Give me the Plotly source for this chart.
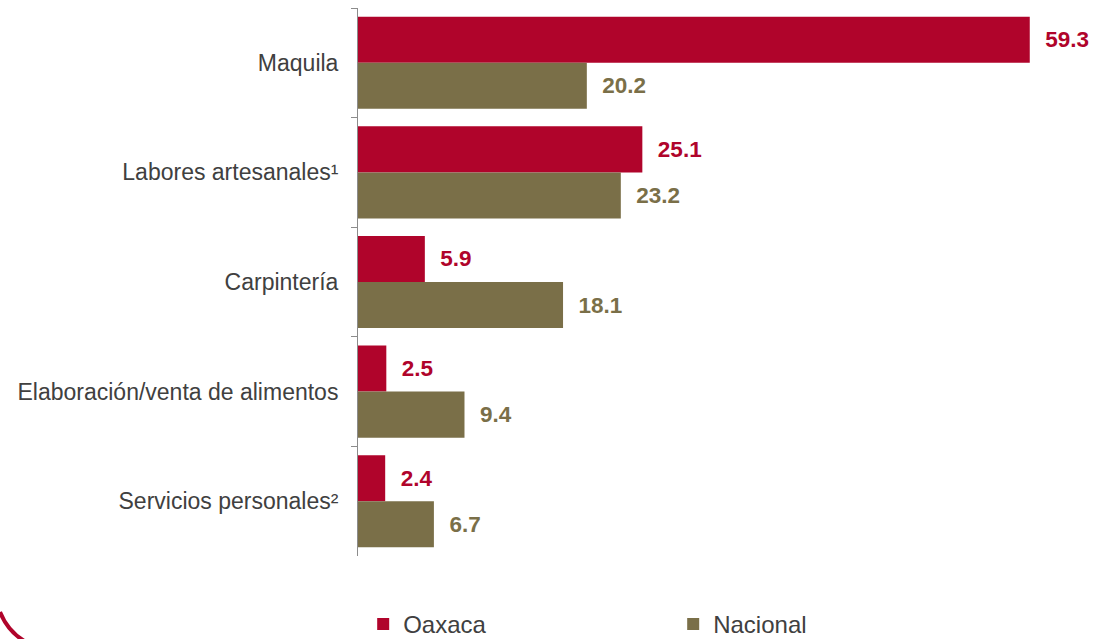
import plotly.graph_objects as go

categories = ["Maquila", "Labores artesanales¹", "Carpintería",
              "Elaboración/venta de alimentos", "Servicios personales²"]
oaxaca = [59.3, 25.1, 5.9, 2.5, 2.4]
nacional = [20.2, 23.2, 18.1, 9.4, 6.7]

RED = "#B0042B"
OLIVE = "#7A6F48"
PAD = "\u00a0\u00a0"

fig = go.Figure()
fig.add_trace(go.Bar(
    y=categories, x=oaxaca, name="Oaxaca", orientation="h",
    marker=dict(color=RED, line=dict(width=0)),
    text=[PAD + f"{v:.1f}" for v in oaxaca], textposition="outside",
    textfont=dict(family="Liberation Sans, Arial", size=22.5, color=RED, weight="bold"),
    cliponaxis=False,
))
fig.add_trace(go.Bar(
    y=categories, x=nacional, name="Nacional", orientation="h",
    marker=dict(color=OLIVE, line=dict(width=0)),
    text=[PAD + f"{v:.1f}" for v in nacional], textposition="outside",
    textfont=dict(family="Liberation Sans, Arial", size=22.5, color=OLIVE, weight="bold"),
    cliponaxis=False,
))

fig.update_layout(
    width=1113, height=639,
    margin=dict(l=358, r=13, t=8, b=83, autoexpand=False),
    paper_bgcolor="white", plot_bgcolor="white",
    barmode="group", bargap=0.16, bargroupgap=0,
    font=dict(family="Liberation Sans, Arial", color="#404040"),
    xaxis=dict(range=[0, 65.5], visible=False, showgrid=False, zeroline=False),
    yaxis=dict(autorange="reversed", showline=True, linecolor="#8C8C8C", linewidth=1,
               ticks="outside", tickson="boundaries", ticklen=6, tickcolor="#8C8C8C",
               tickfont=dict(size=23, color="#404040"), ticklabelstandoff=14,
               showgrid=False, automargin=False),
    legend=dict(orientation="h", x=0.007, xanchor="left", y=-0.125, yanchor="middle",
                font=dict(size=24, color="#404040"),
                entrywidth=265, entrywidthmode="pixels", itemwidth=30),
    showlegend=True,
)

# decorative arc in bottom-left corner
x0 = (0 - 358) / 742
y0 = (556 - 612) / 548
x1 = (26 - 358) / 742
y1 = (556 - 642) / 548
cx = (8 - 358) / 742
cy = (556 - 632) / 548
fig.add_shape(type="path", xref="paper", yref="paper",
              path=f"M {x0},{y0} Q {cx},{cy} {x1},{y1}",
              line=dict(color=RED, width=4))

fig.write_html("out.html", config={"displayModeBar": False},
               post_script="document.body.style.margin='0';document.body.style.overflow='hidden';")
